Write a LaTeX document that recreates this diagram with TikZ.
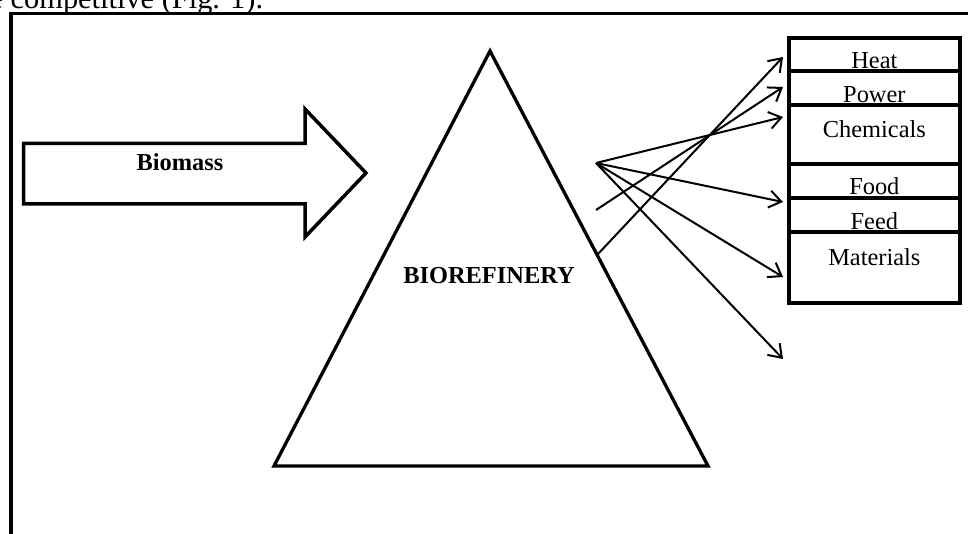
\documentclass[tikz,border=0pt]{standalone}
\usepackage{fontspec}
\setmainfont{Liberation Serif}
\usetikzlibrary{arrows.meta,calc}
\begin{document}
\begin{tikzpicture}[x=0.5pt,y=-0.5pt,
  lbl/.style={font=\fontsize{12.2pt}{14pt}\selectfont, inner sep=0pt, anchor=base},
  blbl/.style={lbl, font=\fontsize{12.2pt}{14pt}\selectfont\bfseries},
  box/.style={draw, line width=2pt, minimum width=85.65pt, inner sep=0pt, outer sep=0pt},
  conn/.style={line width=1pt, -{Straight Barb[length=6pt,width=8.5pt,line width=1pt]}},
  heavy/.style={line width=1.75pt, line join=miter, miter limit=10}]
\useasboundingbox (0,0) rectangle (968,534);
\clip (0,0) rectangle (968,534);

% cut-off running text above the figure
\node[font=\fontsize{15.2pt}{17pt}\selectfont, inner sep=0pt, anchor=base east] (txt) at (263.5,9) {be competitive (Fig. 1).};

% frame (left and top edges visible)
\draw[line width=1.85pt] (11,600) -- (11,13.5) -- (1000,13.5);

% Biomass block arrow
\draw[heavy] (23.5,143.5) -- (305,143.5) -- (305,109) -- (366,173) -- (305,237) -- (305,204) -- (23.5,204) -- cycle;
\node[blbl] (biomass) at (180,170.5) {Biomass};

% Biorefinery triangle
\draw[heavy, line width=1.65pt] (490,51) -- (708,466) -- (274,466) -- cycle;
\node[blbl] (bioref) at (489,283) {BIOREFINERY};

% product boxes
\node[box, minimum height=16.5pt] (heat) at (874.35,54.5) {};
\node[box, minimum height=17pt]   (power) at (874.35,88) {};
\node[box, minimum height=29.5pt] (chem) at (874.35,134.5) {};
\node[box, minimum height=17pt]   (food) at (874.35,181) {};
\node[box, minimum height=17pt]   (feed) at (874.35,215) {};
\node[box, minimum height=35.5pt] (mat) at (874.35,267.5) {};

\node[lbl] (heatT)  at ($(heat.north)+(0,31)$) {Heat};
\node[lbl] (powerT) at ($(power.north)+(0,32)$) {Power};
\node[lbl] (chemT)  at ($(chem.north)+(0,33)$) {Chemicals};
\node[lbl] (foodT)  at ($(food.north)+(0,31)$) {Food};
\node[lbl] (feedT)  at ($(feed.north)+(0,31)$) {Feed};
\node[lbl] (matT)   at ($(mat.north)+(0,33)$) {Materials};

% arrow start points
\coordinate (src)  at (596,163);
\coordinate (src2) at (596,210);
\coordinate (src3) at (598,254);
\coordinate (free) at (783,359);

\draw[conn] (src)  -- ($(chem.west)+(-5.7,-17.5)$);
\draw[conn] (src)  -- ($(food.west)+(-5.7,21)$);
\draw[conn] (src)  -- ($(mat.west)+(-5.7,9.5)$);
\draw[conn] (src)  -- (free);
\draw[conn] (src2) -- ($(power.west)+(-5.7,-1)$);
\draw[conn] (src3) -- ($(heat.west)+(-5.7,2.5)$);
\end{tikzpicture}
\end{document}
